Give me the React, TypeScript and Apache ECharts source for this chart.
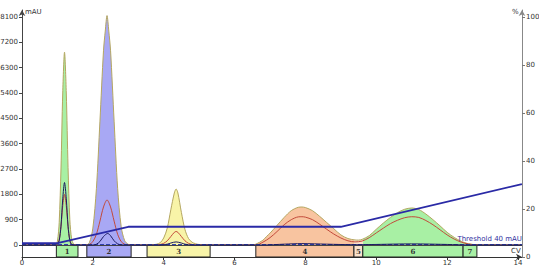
import React, { useEffect, useRef } from "react";
import * as echarts from "echarts";

// UV 1 (main, filled by fraction)
const mainUV: [number, number][] = [
  [0, 0], [0.9, 0], [0.95, 5], [1.0, 140], [1.05, 800], [1.1, 2700], [1.15, 5400], [1.2, 6850], [1.25, 5400], [1.3, 2750], [1.35, 900], [1.4, 220], [1.45, 40], [1.5, 5], [1.6, 0],
  [1.8, 0], [1.9, 80], [2.0, 600], [2.1, 2000], [2.2, 4400], [2.3, 6900], [2.35, 7600], [2.4, 8150], [2.45, 7600], [2.5, 6900], [2.6, 4400], [2.7, 2000], [2.8, 650], [2.9, 150], [3.0, 25], [3.1, 0],
  [3.6, 0], [3.7, 10], [3.8, 30], [3.9, 80], [4.0, 250], [4.1, 600], [4.2, 1250], [4.3, 1850], [4.35, 1990], [4.4, 1850], [4.5, 1150], [4.6, 550], [4.7, 230], [4.8, 100], [4.9, 45], [5.0, 18], [5.2, 0],
  [6.5, 0], [6.6, 30], [6.8, 170], [6.9, 300], [7.0, 420], [7.2, 700], [7.4, 980], [7.6, 1220], [7.8, 1340], [7.9, 1350], [8.0, 1330], [8.2, 1220], [8.4, 1020], [8.6, 800], [8.8, 580], [9.0, 360], [9.2, 230], [9.4, 180], [9.5, 175],
  [9.6, 200], [9.8, 330], [10.0, 560], [10.2, 780], [10.4, 980], [10.6, 1150], [10.8, 1270], [11.0, 1315], [11.2, 1260], [11.4, 1100], [11.6, 900], [11.8, 680], [12.0, 450], [12.2, 270], [12.4, 130], [12.6, 45], [12.8, 12], [13.0, 4], [14.1, 0],
];

// UV 2 (red)
const uv2: [number, number][] = [
  [0, 0], [0.95, 0], [1.0, 30], [1.05, 180], [1.1, 650], [1.15, 1390], [1.2, 1800], [1.25, 1390], [1.3, 650], [1.35, 180], [1.4, 30], [1.5, 0],
  [1.8, 0], [1.9, 20], [2.0, 120], [2.1, 380], [2.2, 850], [2.3, 1350], [2.4, 1600], [2.5, 1350], [2.6, 850], [2.7, 380], [2.8, 120], [2.9, 25], [3.0, 0],
  [3.7, 0], [3.9, 20], [4.0, 60], [4.1, 150], [4.2, 300], [4.3, 450], [4.35, 480], [4.4, 450], [4.5, 300], [4.6, 150], [4.7, 60], [4.8, 20], [5.0, 0],
  [6.6, 0], [6.8, 100], [7.0, 260], [7.2, 480], [7.4, 720], [7.6, 900], [7.8, 1000], [7.9, 1005], [8.0, 990], [8.2, 900], [8.4, 740], [8.6, 560], [8.8, 390], [9.0, 250], [9.2, 150], [9.4, 110],
  [9.6, 140], [9.8, 260], [10.0, 430], [10.2, 600], [10.4, 760], [10.6, 880], [10.8, 970], [11.0, 1005], [11.2, 980], [11.4, 870], [11.6, 720], [11.8, 540], [12.0, 360], [12.2, 210], [12.4, 100], [12.6, 35], [12.8, 10], [13.0, 0], [14.1, 0],
];

// UV 3 (dark)
const uv3: [number, number][] = [
  [0, 0], [0.95, 0], [1.0, 20], [1.05, 155], [1.1, 670], [1.15, 1640], [1.2, 2220], [1.25, 1640], [1.3, 670], [1.35, 155], [1.4, 20], [1.5, 0],
  [2.0, 0], [2.1, 28], [2.2, 125], [2.3, 300], [2.42, 410], [2.5, 330], [2.6, 150], [2.7, 40], [2.8, 5], [2.9, 0],
  [3.9, 0], [4.1, 30], [4.2, 70], [4.35, 110], [4.5, 70], [4.6, 30], [4.8, 0],
  [6.8, 0], [7.4, 30], [7.9, 50], [8.6, 30], [9.4, 10], [10.0, 20], [11.0, 40], [12.0, 20], [12.6, 0], [14.1, 0],
];

// Concentration %B
const percentB: [number, number][] = [
  [0, 5.8], [1.0, 5.8], [3.0, 12.6], [9.0, 12.6], [14.11, 30.4],
];

// Fractions
const fracLabels = ["1", "2", "3", "4", "5", "6", "7"];
const fracStart = [0.97, 1.83, 3.53, 6.6, 9.37, 9.62, 12.45];
const fracEnd = [1.58, 3.08, 5.31, 9.37, 9.62, 12.45, 12.84];
const fracColors = ["#a8f0a4", "#a8a8f4", "#f8f4a8", "#f8c4a0", "#fbe2cc", "#a8f0a4", "#a8f0a4"];

const thresholdValue = 40;
const xTicks = [0, 2, 4, 6, 8, 10, 12, 14];
const yTicks = [0, 900, 1800, 2700, 3600, 4500, 5400, 6300, 7200, 8100];
const pctTicks = [0, 20, 40, 60, 80, 100];

const FONT = "DejaVu Sans";
const plain = (v: number) => String(v);

export default function App() {
  const ref = useRef<HTMLDivElement>(null);
  useEffect(() => {
    if (!ref.current) return;
    const chart = echarts.init(ref.current, null, { renderer: "svg" });

    const pieces: any[] = fracLabels.map((_, i) => ({
      gte: fracStart[i],
      lt: fracEnd[i],
      color: fracColors[i],
    }));

    const markAreaData = fracLabels.map((lab, i) => [
      {
        name: lab,
        xAxis: fracStart[i],
        yAxis: -426,
        itemStyle: { color: fracColors[i], borderColor: "#222", borderWidth: 1 },
      },
      { xAxis: fracEnd[i], yAxis: 0 },
    ]);

    const option: any = {
      animation: false,
      backgroundColor: "#ffffff",
      grid: { left: 22, right: 17, top: 10, bottom: 11, containLabel: false, outerBoundsMode: "none" },
      visualMap: {
        type: "piecewise",
        show: false,
        dimension: 0,
        seriesIndex: 0,
        pieces,
        outOfRange: { color: "rgba(255,255,255,0)" },
      },
      xAxis: {
        type: "value",
        min: 0,
        max: 14.113,
        axisLine: {
          show: true,
          onZero: false,
          lineStyle: { color: "#333", width: 1 },
          symbol: ["none", "arrow"],
          symbolSize: [5, 6],
        },
        axisTick: { show: true, length: 3, customValues: xTicks, lineStyle: { color: "#333" } },
        axisLabel: { customValues: xTicks, formatter: plain, fontSize: 7, color: "#333", margin: 2, fontFamily: FONT },
        splitLine: { show: false },
      },
      yAxis: [
        {
          type: "value",
          min: -426,
          max: 8349,
          position: "left",
          axisLine: {
            show: true,
            onZero: false,
            lineStyle: { color: "#444", width: 1 },
            symbol: ["none", "arrow"],
            symbolSize: [5, 6],
          },
          axisTick: { show: true, length: 3, customValues: yTicks, lineStyle: { color: "#444" } },
          axisLabel: { customValues: yTicks, formatter: plain, fontSize: 7, color: "#333", margin: 4, fontFamily: FONT },
          splitLine: { show: false },
        },
        {
          type: "value",
          min: 0,
          max: 102.92,
          position: "right",
          axisLine: {
            show: true,
            onZero: false,
            lineStyle: { color: "#888", width: 1 },
            symbol: ["none", "arrow"],
            symbolSize: [5, 6],
          },
          axisTick: { show: true, length: 3, customValues: pctTicks, lineStyle: { color: "#777" } },
          axisLabel: { customValues: pctTicks, formatter: plain, fontSize: 7, color: "#333", margin: 4, fontFamily: FONT },
          splitLine: { show: false },
        },
      ],
      graphic: [
        { type: "text", left: 25, top: 8, style: { text: "mAU", fontSize: 7, fill: "#333", fontFamily: FONT } },
        { type: "text", left: 512, top: 8, style: { text: "%", fontSize: 7, fill: "#333", fontFamily: FONT } },
        { type: "text", left: 511, top: 247, style: { text: "CV", fontSize: 7, fill: "#333", fontFamily: FONT } },
      ],
      series: [
        {
          type: "line",
          data: mainUV,
          smooth: 0.3,
          showSymbol: false,
          symbol: "none",
          lineStyle: { width: 0 },
          areaStyle: { opacity: 1 },
          z: 1,
          silent: true,
          markArea: {
            silent: true,
            data: markAreaData,
            label: {
              show: true,
              position: "inside",
              fontSize: 7,
              fontWeight: "bold",
              color: "#333",
              fontFamily: "DejaVu Serif",
            },
          },
        },
        {
          type: "line",
          data: mainUV,
          smooth: 0.3,
          showSymbol: false,
          symbol: "none",
          lineStyle: { width: 1, color: "#b4a660" },
          z: 3,
          markLine: {
            silent: true,
            symbol: "none",
            data: [
              {
                yAxis: 0,
                lineStyle: { color: "#444", width: 1, type: "solid" },
                label: { show: false },
              },
              {
                yAxis: thresholdValue,
                lineStyle: { color: "#3040b0", width: 1, type: [4, 2] },
                label: {
                  show: true,
                  formatter: "Threshold " + thresholdValue + " mAU",
                  position: "insideEndTop",
                  distance: [0, 1],
                  fontSize: 7,
                  color: "#3030a0",
                  fontFamily: FONT,
                },
              },
            ],
          },
        },
        {
          type: "line",
          data: uv2,
          smooth: 0.3,
          showSymbol: false,
          symbol: "none",
          lineStyle: { width: 1, color: "#c24a3a" },
          z: 4,
        },
        {
          type: "line",
          data: uv3,
          smooth: 0.3,
          showSymbol: false,
          symbol: "none",
          lineStyle: { width: 1, color: "#1c1c60" },
          z: 5,
        },
        {
          type: "line",
          yAxisIndex: 1,
          data: percentB,
          showSymbol: false,
          symbol: "none",
          lineStyle: { width: 1.8, color: "#2a2aa6" },
          z: 6,
        },
      ],
    };
    chart.setOption(option);
    return () => chart.dispose();
  }, []);

  return (
    <div
      ref={ref}
      style={{ position: "absolute", left: 0, top: 0, width: 539, height: 268 }}
    />
  );
}
